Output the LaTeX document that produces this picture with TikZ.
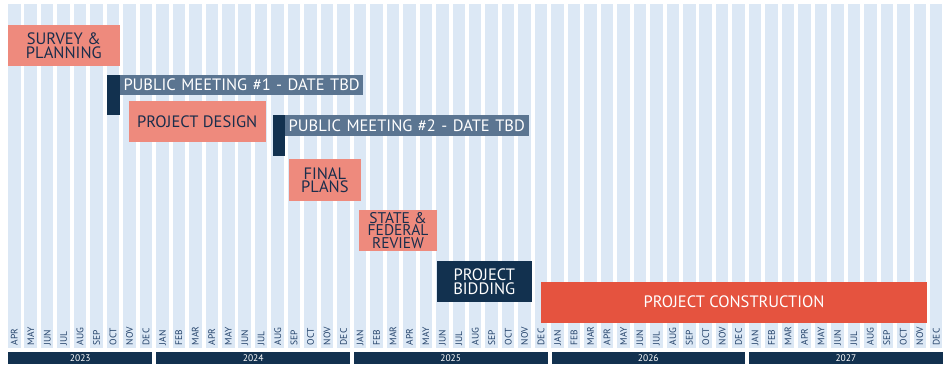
\documentclass[tikz,border=0pt]{standalone}
\usepackage{fontspec}
\setmainfont{PT Sans}
\definecolor{colbg}{HTML}{DCE8F5}
\definecolor{salmon}{HTML}{EE8A7D}
\definecolor{navy}{HTML}{12314F}
\definecolor{slateblue}{HTML}{5B7591}
\definecolor{constr}{HTML}{E5533F}
\definecolor{txtnavy}{HTML}{1A2E4C}
\definecolor{mtxt}{HTML}{23426A}
\tikzset{
  colbar/.style={fill=colbg},
  monthlbl/.style={rotate=90, anchor=west, inner sep=0pt, font=\fontsize{9.5}{9.5}\selectfont, text=mtxt},
  yearbar/.style={fill=navy, draw=none, inner sep=0pt, anchor=north west, minimum height=12.5pt, text=white, font=\fontsize{9.5}{9.5}\selectfont},
  taskbox/.style={anchor=north west, inner sep=0pt, align=center, draw=none},
  softbox/.style={taskbox, fill=salmon, text=txtnavy, font=\fontsize{16.5}{13.8}\selectfont},
  darkbox/.style={taskbox, fill=navy, text=white, font=\fontsize{16.5}{13.8}\selectfont},
  meetbar/.style={anchor=north west, inner sep=0pt, fill=navy, minimum width=12.5pt},
  meetlbl/.style={anchor=north west, inner xsep=4pt, inner ysep=0pt, fill=slateblue, text=white, align=left, font=\fontsize{16.5}{16.5}\selectfont, minimum height=20.5pt},
  bigbox/.style={taskbox, fill=constr, text=white, font=\fontsize{16.5}{16.5}\selectfont}
}
\begin{document}
\begin{tikzpicture}[x=1pt,y=-1pt]
\useasboundingbox (0,0) rectangle (951,366);
\fill[white] (0,0) rectangle (951,366);
% month columns
\def\pitch{16.464}
\def\cw{12.5}
\foreach \m [count=\k from 0] in {APR,MAY,JUN,JUL,AUG,SEP,OCT,NOV,DEC,
  JAN,FEB,MAR,APR,MAY,JUN,JUL,AUG,SEP,OCT,NOV,DEC,
  JAN,FEB,MAR,APR,MAY,JUN,JUL,AUG,SEP,OCT,NOV,DEC,
  JAN,FEB,MAR,APR,MAY,JUN,JUL,AUG,SEP,OCT,NOV,DEC,
  JAN,FEB,MAR,APR,MAY,JUN,JUL,AUG,SEP,OCT,NOV,DEC}{
  \fill[colbar] ({8+\k*\pitch},4) rectangle ++(\cw,344);
  \node[monthlbl] (m\k) at ({8+\k*\pitch+\cw/2},345.5) {\m};
}
% year bars
\foreach \y/\a/\b in {2023/0/8,2024/9/20,2025/21/32,2026/33/44,2027/45/56}{
  \pgfmathsetmacro{\xl}{8+\a*\pitch}
  \pgfmathsetmacro{\ywid}{(\b-\a)*\pitch+\cw}
  \node[yearbar, minimum width=\ywid pt] (y\y) at (\xl,351.5) {\y};
}
% tasks
\node[softbox, minimum width=111.3pt, minimum height=41pt] (survey) at (8,25) {SURVEY \&\\PLANNING};
\node[meetbar, minimum height=40.5pt] (pm1bar) at (106.8,74.5) {};
\node[meetlbl, minimum width=243.7pt, text width=235.7pt] (pm1) at (119.3,74.5) {\mbox{PUBLIC MEETING \#1 - DATE TBD}};
\node[softbox, minimum width=137.4pt, minimum height=40.7pt] (design) at (128.3,101) {PROJECT DESIGN};
\node[meetbar, minimum height=40.7pt] (pm2bar) at (272.3,115) {};
\node[meetlbl, minimum width=244.5pt, text width=236.5pt] (pm2) at (284.5,115) {\mbox{PUBLIC MEETING \#2 - DATE TBD}};
\node[softbox, minimum width=72.7pt, minimum height=41.4pt] (final) at (288.3,159.3) {FINAL\\PLANS};
\node[softbox, minimum width=77.7pt, minimum height=40.7pt, font=\fontsize{15.5}{12.8}\selectfont] (review) at (359,210) {STATE \&\\FEDERAL\\REVIEW};
\node[darkbox, minimum width=94.8pt, minimum height=40.7pt] (bidding) at (436.7,261) {PROJECT\\BIDDING};
\node[bigbox, minimum width=385.7pt, minimum height=40.6pt] (construction) at (541,281.7) {PROJECT CONSTRUCTION};
\end{tikzpicture}
\end{document}
